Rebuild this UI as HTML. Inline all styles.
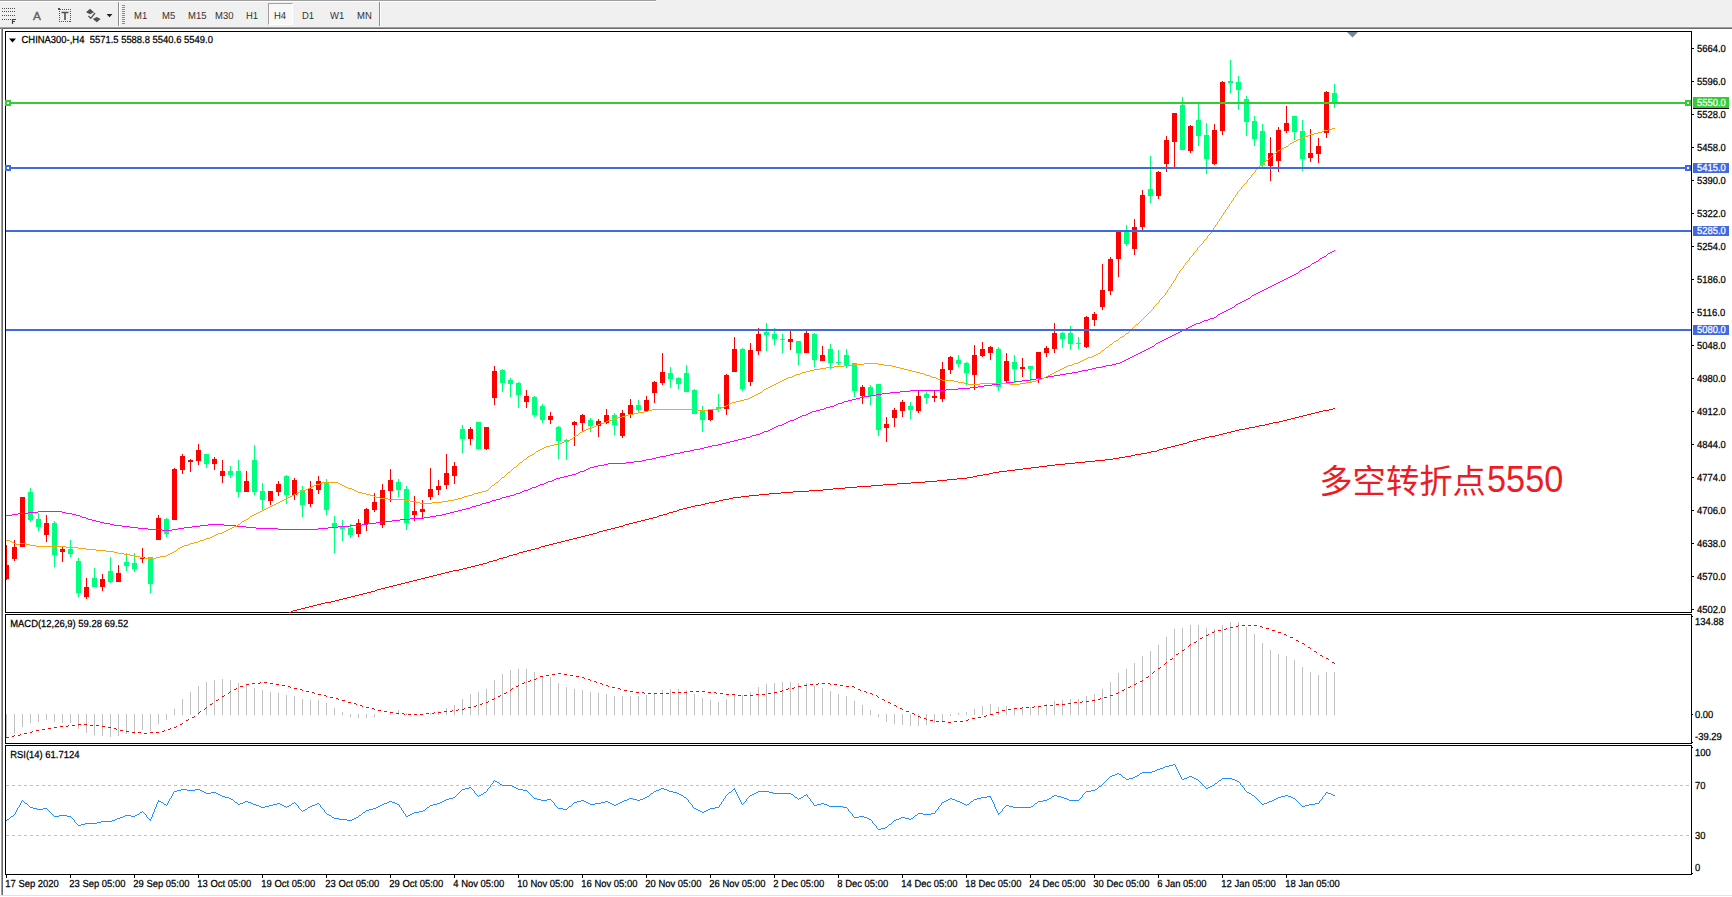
<!DOCTYPE html>
<html lang="zh"><head><meta charset="utf-8"><title>CHINA300-,H4</title>
<style>html,body{margin:0;padding:0;background:#fff;}body{width:1732px;height:897px;overflow:hidden;position:relative;font-family:"Liberation Sans","Noto Sans CJK SC",sans-serif;}svg{position:absolute;left:0;top:0;}.tb{position:absolute;left:0;top:0;width:1732px;height:27px;background:#f0f0f0;}.tf{position:absolute;top:11px;transform:scaleX(0.93);transform-origin:0 0;font-size:10.2px;line-height:12px;color:#333;text-rendering:geometricPrecision;white-space:nowrap;}.note{position:absolute;left:1319.3px;top:456.5px;font-size:33.3px;line-height:48px;color:#ed1c24;white-space:nowrap;font-family:"Liberation Sans","Noto Sans CJK SC",sans-serif;}</style></head><body>
<div class="tb"></div>
<div style="position:absolute;left:268px;top:3px;width:25px;height:22px;border-left:1px solid #a0a0a0;border-top:1px solid #a0a0a0;border-right:1px solid #fff;border-bottom:1px solid #fff;box-sizing:border-box;background:#f8f8f8;"></div>
<div class="tf" style="left:133.6px">M1</div>
<div class="tf" style="left:161.5px">M5</div>
<div class="tf" style="left:187.6px">M15</div>
<div class="tf" style="left:215.4px">M30</div>
<div class="tf" style="left:245.8px">H1</div>
<div class="tf" style="left:273.5px">H4</div>
<div class="tf" style="left:302.4px">D1</div>
<div class="tf" style="left:330.4px">W1</div>
<div class="tf" style="left:356.5px">MN</div>
<div class="note">多空转折点<span style="display:inline-block;font-size:36.3px;line-height:48px;transform:scaleX(0.945);transform-origin:0 100%;margin-left:1.5px;position:relative;top:-0.5px">5550</span></div>
<svg width="1732" height="897" viewBox="0 0 1732 897">
<g shape-rendering="crispEdges">
<rect x="0" y="0" width="656" height="1" fill="#a0a0a0"/><rect x="0" y="1" width="656" height="1" fill="#ffffff"/>
<rect x="0" y="27" width="1732" height="1" fill="#a0a0a0"/><rect x="0" y="28" width="1732" height="1" fill="#696969"/>
<rect x="0" y="29" width="1" height="866" fill="#ffffff"/>
<rect x="1" y="28" width="1" height="867" fill="#a0a0a0"/><rect x="2" y="29" width="1" height="866" fill="#696969"/>
<rect x="0" y="895" width="1732" height="1" fill="#e3e3e3"/>
<rect x="118" y="2" width="1" height="24" fill="#8c8c8c"/><rect x="119" y="2" width="1" height="24" fill="#ffffff"/>
<rect x="122" y="5" width="3" height="1" fill="#8c8c8c"/>
<rect x="122" y="7" width="3" height="1" fill="#8c8c8c"/>
<rect x="122" y="9" width="3" height="1" fill="#8c8c8c"/>
<rect x="122" y="11" width="3" height="1" fill="#8c8c8c"/>
<rect x="122" y="13" width="3" height="1" fill="#8c8c8c"/>
<rect x="122" y="15" width="3" height="1" fill="#8c8c8c"/>
<rect x="122" y="17" width="3" height="1" fill="#8c8c8c"/>
<rect x="122" y="19" width="3" height="1" fill="#8c8c8c"/>
<rect x="122" y="21" width="3" height="1" fill="#8c8c8c"/>
<rect x="122" y="23" width="3" height="1" fill="#8c8c8c"/>
<rect x="379" y="2" width="1" height="24" fill="#8c8c8c"/><rect x="380" y="2" width="1" height="24" fill="#ffffff"/>
</g>
<g id="icons">
<line x1="2" y1="8.5" x2="15" y2="8.5" stroke="#505050" stroke-width="1" stroke-dasharray="1 1" shape-rendering="crispEdges"/>
<line x1="2" y1="11.5" x2="15" y2="11.5" stroke="#505050" stroke-width="1" stroke-dasharray="1 1" shape-rendering="crispEdges"/>
<line x1="2" y1="15.5" x2="15" y2="15.5" stroke="#505050" stroke-width="1" stroke-dasharray="1 1" shape-rendering="crispEdges"/>
<line x1="2" y1="19.5" x2="11" y2="19.5" stroke="#505050" stroke-width="1" stroke-dasharray="1 1" shape-rendering="crispEdges"/>
<path d="M12.5 24V19.5H16M12.5 21.5H15" stroke="#404040" stroke-width="1.2" fill="none"/>
<text x="32.9" y="20" font-family="Liberation Sans, sans-serif" font-size="11.8px" fill="#606060" stroke="#606060" stroke-width="0.35">A</text>
<rect x="59.5" y="9.5" width="11" height="12" fill="none" stroke="#505050" stroke-width="1" stroke-dasharray="1 1" shape-rendering="crispEdges"/>
<rect x="58" y="8" width="2" height="2" fill="#505050"/>
<path d="M61.5 12.5H68.500M65 12.5V20" stroke="#505050" stroke-width="1.6" fill="none"/>
<path d="M86 12.200L90 8.800L94 12.200L90 14.200ZM92.800 19L96.800 17L100.600 19L96.800 22.300Z" fill="#505050"/><path d="M88.500 16L90.800 18.300L95 13" stroke="#505050" stroke-width="1.3" fill="none"/>
<path d="M106.500 14H112.500L109.500 17.300Z" fill="#202020"/>
</g>
<g shape-rendering="crispEdges">
<rect x="5" y="31" width="1" height="582" fill="#000"/>
<rect x="1691" y="31" width="1" height="582" fill="#000"/>
<rect x="5" y="614" width="1" height="130" fill="#000"/>
<rect x="1691" y="614" width="1" height="130" fill="#000"/>
<rect x="5" y="745" width="1" height="130" fill="#000"/>
<rect x="1691" y="745" width="1" height="130" fill="#000"/>
<rect x="5" y="31" width="1687" height="1" fill="#000"/>
<rect x="5" y="612" width="1687" height="1" fill="#000"/>
<rect x="5" y="614" width="1687" height="1" fill="#000"/>
<rect x="5" y="743" width="1687" height="1" fill="#000"/>
<rect x="5" y="745" width="1687" height="1" fill="#000"/>
<rect x="5" y="874" width="1687" height="1" fill="#000"/>
<rect x="1692" y="48" width="2" height="1" fill="#000"/>
<rect x="1692" y="81" width="2" height="1" fill="#000"/>
<rect x="1692" y="114" width="2" height="1" fill="#000"/>
<rect x="1692" y="147" width="2" height="1" fill="#000"/>
<rect x="1692" y="180" width="2" height="1" fill="#000"/>
<rect x="1692" y="213" width="2" height="1" fill="#000"/>
<rect x="1692" y="246" width="2" height="1" fill="#000"/>
<rect x="1692" y="279" width="2" height="1" fill="#000"/>
<rect x="1692" y="312" width="2" height="1" fill="#000"/>
<rect x="1692" y="345" width="2" height="1" fill="#000"/>
<rect x="1692" y="378" width="2" height="1" fill="#000"/>
<rect x="1692" y="411" width="2" height="1" fill="#000"/>
<rect x="1692" y="444" width="2" height="1" fill="#000"/>
<rect x="1692" y="477" width="2" height="1" fill="#000"/>
<rect x="1692" y="510" width="2" height="1" fill="#000"/>
<rect x="1692" y="543" width="2" height="1" fill="#000"/>
<rect x="1692" y="576" width="2" height="1" fill="#000"/>
<rect x="1692" y="609" width="2" height="1" fill="#000"/>
<rect x="1692" y="616" width="1" height="1" fill="#000"/>
<rect x="1692" y="714" width="1" height="1" fill="#000"/>
<rect x="1692" y="742" width="1" height="1" fill="#000"/>
<rect x="1692" y="747" width="1" height="1" fill="#000"/>
<rect x="1692" y="873" width="1" height="1" fill="#000"/>
<rect x="6" y="875" width="1" height="3" fill="#000"/>
<rect x="70" y="875" width="1" height="3" fill="#000"/>
<rect x="134" y="875" width="1" height="3" fill="#000"/>
<rect x="198" y="875" width="1" height="3" fill="#000"/>
<rect x="262" y="875" width="1" height="3" fill="#000"/>
<rect x="326" y="875" width="1" height="3" fill="#000"/>
<rect x="390" y="875" width="1" height="3" fill="#000"/>
<rect x="454" y="875" width="1" height="3" fill="#000"/>
<rect x="518" y="875" width="1" height="3" fill="#000"/>
<rect x="582" y="875" width="1" height="3" fill="#000"/>
<rect x="646" y="875" width="1" height="3" fill="#000"/>
<rect x="710" y="875" width="1" height="3" fill="#000"/>
<rect x="774" y="875" width="1" height="3" fill="#000"/>
<rect x="838" y="875" width="1" height="3" fill="#000"/>
<rect x="902" y="875" width="1" height="3" fill="#000"/>
<rect x="966" y="875" width="1" height="3" fill="#000"/>
<rect x="1030" y="875" width="1" height="3" fill="#000"/>
<rect x="1094" y="875" width="1" height="3" fill="#000"/>
<rect x="1158" y="875" width="1" height="3" fill="#000"/>
<rect x="1222" y="875" width="1" height="3" fill="#000"/>
<rect x="1286" y="875" width="1" height="3" fill="#000"/>
</g>
<g shape-rendering="crispEdges">
<rect x="6" y="545" width="1" height="35" fill="#ff0000"/><rect x="6" y="565" width="3" height="14" fill="#ff0000"/>
<rect x="14" y="540" width="1" height="21" fill="#ff0000"/><rect x="12" y="547" width="5" height="12" fill="#ff0000"/>
<rect x="22" y="497" width="1" height="50" fill="#ff0000"/><rect x="20" y="497" width="5" height="50" fill="#ff0000"/>
<rect x="30" y="488" width="1" height="34" fill="#00ff7f"/><rect x="28" y="492" width="5" height="28" fill="#00ff7f"/>
<rect x="38" y="513" width="1" height="18" fill="#00ff7f"/><rect x="36" y="519" width="5" height="8" fill="#00ff7f"/>
<rect x="46" y="515" width="1" height="27" fill="#ff0000"/><rect x="44" y="523" width="5" height="12" fill="#ff0000"/>
<rect x="54" y="521" width="1" height="46" fill="#00ff7f"/><rect x="52" y="523" width="5" height="32" fill="#00ff7f"/>
<rect x="62" y="546" width="1" height="16" fill="#ff0000"/><rect x="60" y="549" width="5" height="3" fill="#ff0000"/>
<rect x="70" y="540" width="1" height="17" fill="#00ff7f"/><rect x="68" y="549" width="5" height="5" fill="#00ff7f"/>
<rect x="78" y="558" width="1" height="39" fill="#00ff7f"/><rect x="76" y="561" width="5" height="32" fill="#00ff7f"/>
<rect x="86" y="578" width="1" height="21" fill="#ff0000"/><rect x="84" y="587" width="5" height="10" fill="#ff0000"/>
<rect x="94" y="568" width="1" height="19" fill="#00ff7f"/><rect x="92" y="578" width="5" height="9" fill="#00ff7f"/>
<rect x="102" y="574" width="1" height="17" fill="#ff0000"/><rect x="100" y="579" width="5" height="8" fill="#ff0000"/>
<rect x="110" y="557" width="1" height="26" fill="#00ff7f"/><rect x="108" y="571" width="5" height="11" fill="#00ff7f"/>
<rect x="118" y="565" width="1" height="17" fill="#ff0000"/><rect x="116" y="573" width="5" height="9" fill="#ff0000"/>
<rect x="126" y="553" width="1" height="18" fill="#00ff7f"/><rect x="124" y="562" width="5" height="4" fill="#00ff7f"/>
<rect x="134" y="553" width="1" height="19" fill="#00ff7f"/><rect x="132" y="563" width="5" height="6" fill="#00ff7f"/>
<rect x="142" y="548" width="1" height="15" fill="#ff0000"/><rect x="140" y="557" width="5" height="2" fill="#ff0000"/>
<rect x="150" y="557" width="1" height="36" fill="#00ff7f"/><rect x="148" y="557" width="5" height="27" fill="#00ff7f"/>
<rect x="158" y="515" width="1" height="25" fill="#ff0000"/><rect x="156" y="518" width="5" height="22" fill="#ff0000"/>
<rect x="166" y="518" width="1" height="19" fill="#00ff7f"/><rect x="164" y="519" width="5" height="15" fill="#00ff7f"/>
<rect x="174" y="468" width="1" height="52" fill="#ff0000"/><rect x="172" y="469" width="5" height="51" fill="#ff0000"/>
<rect x="182" y="454" width="1" height="20" fill="#ff0000"/><rect x="180" y="456" width="5" height="14" fill="#ff0000"/>
<rect x="190" y="459" width="1" height="13" fill="#ff0000"/><rect x="188" y="460" width="5" height="2" fill="#ff0000"/>
<rect x="198" y="444" width="1" height="21" fill="#ff0000"/><rect x="196" y="450" width="5" height="11" fill="#ff0000"/>
<rect x="206" y="454" width="1" height="14" fill="#00ff7f"/><rect x="204" y="454" width="5" height="10" fill="#00ff7f"/>
<rect x="214" y="457" width="1" height="13" fill="#ff0000"/><rect x="212" y="459" width="5" height="5" fill="#ff0000"/>
<rect x="222" y="460" width="1" height="23" fill="#ff0000"/><rect x="220" y="471" width="5" height="5" fill="#ff0000"/>
<rect x="230" y="466" width="1" height="12" fill="#00ff7f"/><rect x="228" y="471" width="5" height="4" fill="#00ff7f"/>
<rect x="238" y="460" width="1" height="37" fill="#00ff7f"/><rect x="236" y="471" width="5" height="21" fill="#00ff7f"/>
<rect x="246" y="471" width="1" height="21" fill="#ff0000"/><rect x="244" y="481" width="5" height="11" fill="#ff0000"/>
<rect x="254" y="445" width="1" height="50" fill="#00ff7f"/><rect x="252" y="460" width="5" height="32" fill="#00ff7f"/>
<rect x="262" y="483" width="1" height="28" fill="#00ff7f"/><rect x="260" y="491" width="5" height="9" fill="#00ff7f"/>
<rect x="270" y="491" width="1" height="14" fill="#ff0000"/><rect x="268" y="491" width="5" height="10" fill="#ff0000"/>
<rect x="278" y="481" width="1" height="15" fill="#ff0000"/><rect x="276" y="484" width="5" height="8" fill="#ff0000"/>
<rect x="286" y="475" width="1" height="29" fill="#00ff7f"/><rect x="284" y="476" width="5" height="19" fill="#00ff7f"/>
<rect x="294" y="478" width="1" height="22" fill="#ff0000"/><rect x="292" y="480" width="5" height="15" fill="#ff0000"/>
<rect x="302" y="486" width="1" height="31" fill="#00ff7f"/><rect x="300" y="490" width="5" height="15" fill="#00ff7f"/>
<rect x="310" y="481" width="1" height="26" fill="#ff0000"/><rect x="308" y="489" width="5" height="15" fill="#ff0000"/>
<rect x="318" y="476" width="1" height="18" fill="#ff0000"/><rect x="316" y="481" width="5" height="9" fill="#ff0000"/>
<rect x="326" y="479" width="1" height="36" fill="#00ff7f"/><rect x="324" y="483" width="5" height="27" fill="#00ff7f"/>
<rect x="334" y="516" width="1" height="37" fill="#00ff7f"/><rect x="332" y="523" width="5" height="4" fill="#00ff7f"/>
<rect x="342" y="520" width="1" height="21" fill="#00ff7f"/><rect x="340" y="527" width="5" height="2" fill="#00ff7f"/>
<rect x="350" y="524" width="1" height="14" fill="#00ff7f"/><rect x="348" y="528" width="5" height="7" fill="#00ff7f"/>
<rect x="358" y="519" width="1" height="18" fill="#ff0000"/><rect x="356" y="523" width="5" height="11" fill="#ff0000"/>
<rect x="366" y="508" width="1" height="23" fill="#ff0000"/><rect x="364" y="509" width="5" height="15" fill="#ff0000"/>
<rect x="374" y="493" width="1" height="19" fill="#ff0000"/><rect x="372" y="502" width="5" height="8" fill="#ff0000"/>
<rect x="382" y="484" width="1" height="44" fill="#ff0000"/><rect x="380" y="490" width="5" height="35" fill="#ff0000"/>
<rect x="390" y="469" width="1" height="33" fill="#ff0000"/><rect x="388" y="480" width="5" height="11" fill="#ff0000"/>
<rect x="398" y="479" width="1" height="18" fill="#00ff7f"/><rect x="396" y="482" width="5" height="8" fill="#00ff7f"/>
<rect x="406" y="486" width="1" height="44" fill="#00ff7f"/><rect x="404" y="489" width="5" height="34" fill="#00ff7f"/>
<rect x="414" y="496" width="1" height="25" fill="#ff0000"/><rect x="412" y="511" width="5" height="4" fill="#ff0000"/>
<rect x="422" y="500" width="1" height="18" fill="#ff0000"/><rect x="420" y="509" width="5" height="3" fill="#ff0000"/>
<rect x="430" y="468" width="1" height="32" fill="#ff0000"/><rect x="428" y="489" width="5" height="8" fill="#ff0000"/>
<rect x="438" y="480" width="1" height="15" fill="#ff0000"/><rect x="436" y="486" width="5" height="4" fill="#ff0000"/>
<rect x="446" y="454" width="1" height="35" fill="#ff0000"/><rect x="444" y="473" width="5" height="12" fill="#ff0000"/>
<rect x="454" y="462" width="1" height="22" fill="#ff0000"/><rect x="452" y="466" width="5" height="10" fill="#ff0000"/>
<rect x="462" y="425" width="1" height="28" fill="#00ff7f"/><rect x="460" y="429" width="5" height="10" fill="#00ff7f"/>
<rect x="470" y="427" width="1" height="18" fill="#ff0000"/><rect x="468" y="429" width="5" height="10" fill="#ff0000"/>
<rect x="478" y="422" width="1" height="28" fill="#00ff7f"/><rect x="476" y="422" width="5" height="27" fill="#00ff7f"/>
<rect x="486" y="427" width="1" height="23" fill="#ff0000"/><rect x="484" y="427" width="5" height="22" fill="#ff0000"/>
<rect x="494" y="366" width="1" height="39" fill="#ff0000"/><rect x="492" y="371" width="5" height="27" fill="#ff0000"/>
<rect x="502" y="369" width="1" height="23" fill="#00ff7f"/><rect x="500" y="370" width="5" height="13" fill="#00ff7f"/>
<rect x="510" y="378" width="1" height="19" fill="#00ff7f"/><rect x="508" y="380" width="5" height="4" fill="#00ff7f"/>
<rect x="518" y="382" width="1" height="26" fill="#00ff7f"/><rect x="516" y="383" width="5" height="12" fill="#00ff7f"/>
<rect x="526" y="390" width="1" height="18" fill="#ff0000"/><rect x="524" y="396" width="5" height="6" fill="#ff0000"/>
<rect x="534" y="396" width="1" height="21" fill="#00ff7f"/><rect x="532" y="397" width="5" height="18" fill="#00ff7f"/>
<rect x="542" y="404" width="1" height="19" fill="#00ff7f"/><rect x="540" y="406" width="5" height="14" fill="#00ff7f"/>
<rect x="550" y="412" width="1" height="12" fill="#ff0000"/><rect x="548" y="416" width="5" height="4" fill="#ff0000"/>
<rect x="558" y="426" width="1" height="33" fill="#00ff7f"/><rect x="556" y="427" width="5" height="14" fill="#00ff7f"/>
<rect x="566" y="439" width="1" height="21" fill="#00ff7f"/><rect x="564" y="440" width="5" height="2" fill="#00ff7f"/>
<rect x="574" y="421" width="1" height="25" fill="#ff0000"/><rect x="572" y="422" width="5" height="3" fill="#ff0000"/>
<rect x="582" y="414" width="1" height="17" fill="#ff0000"/><rect x="580" y="415" width="5" height="8" fill="#ff0000"/>
<rect x="590" y="418" width="1" height="14" fill="#00ff7f"/><rect x="588" y="420" width="5" height="6" fill="#00ff7f"/>
<rect x="598" y="419" width="1" height="18" fill="#ff0000"/><rect x="596" y="421" width="5" height="5" fill="#ff0000"/>
<rect x="606" y="409" width="1" height="15" fill="#ff0000"/><rect x="604" y="415" width="5" height="8" fill="#ff0000"/>
<rect x="614" y="413" width="1" height="22" fill="#00ff7f"/><rect x="612" y="415" width="5" height="10" fill="#00ff7f"/>
<rect x="622" y="410" width="1" height="28" fill="#ff0000"/><rect x="620" y="413" width="5" height="23" fill="#ff0000"/>
<rect x="630" y="399" width="1" height="19" fill="#ff0000"/><rect x="628" y="405" width="5" height="10" fill="#ff0000"/>
<rect x="638" y="400" width="1" height="12" fill="#00ff7f"/><rect x="636" y="405" width="5" height="5" fill="#00ff7f"/>
<rect x="646" y="396" width="1" height="15" fill="#ff0000"/><rect x="644" y="400" width="5" height="11" fill="#ff0000"/>
<rect x="654" y="381" width="1" height="22" fill="#ff0000"/><rect x="652" y="382" width="5" height="11" fill="#ff0000"/>
<rect x="662" y="353" width="1" height="32" fill="#ff0000"/><rect x="660" y="372" width="5" height="11" fill="#ff0000"/>
<rect x="670" y="367" width="1" height="21" fill="#00ff7f"/><rect x="668" y="373" width="5" height="6" fill="#00ff7f"/>
<rect x="678" y="377" width="1" height="12" fill="#00ff7f"/><rect x="676" y="378" width="5" height="6" fill="#00ff7f"/>
<rect x="686" y="365" width="1" height="27" fill="#00ff7f"/><rect x="684" y="373" width="5" height="19" fill="#00ff7f"/>
<rect x="694" y="389" width="1" height="25" fill="#00ff7f"/><rect x="692" y="390" width="5" height="24" fill="#00ff7f"/>
<rect x="702" y="406" width="1" height="26" fill="#00ff7f"/><rect x="700" y="410" width="5" height="10" fill="#00ff7f"/>
<rect x="710" y="410" width="1" height="11" fill="#ff0000"/><rect x="708" y="410" width="5" height="10" fill="#ff0000"/>
<rect x="718" y="394" width="1" height="18" fill="#00ff7f"/><rect x="716" y="407" width="5" height="2" fill="#00ff7f"/>
<rect x="726" y="374" width="1" height="41" fill="#ff0000"/><rect x="724" y="375" width="5" height="34" fill="#ff0000"/>
<rect x="734" y="337" width="1" height="35" fill="#ff0000"/><rect x="732" y="349" width="5" height="23" fill="#ff0000"/>
<rect x="742" y="348" width="1" height="43" fill="#00ff7f"/><rect x="740" y="349" width="5" height="40" fill="#00ff7f"/>
<rect x="750" y="343" width="1" height="43" fill="#ff0000"/><rect x="748" y="350" width="5" height="32" fill="#ff0000"/>
<rect x="758" y="328" width="1" height="27" fill="#ff0000"/><rect x="756" y="334" width="5" height="17" fill="#ff0000"/>
<rect x="766" y="323" width="1" height="28" fill="#00ff7f"/><rect x="764" y="332" width="5" height="3" fill="#00ff7f"/>
<rect x="774" y="328" width="1" height="17" fill="#00ff7f"/><rect x="772" y="334" width="5" height="5" fill="#00ff7f"/>
<rect x="782" y="334" width="1" height="19" fill="#00ff7f"/><rect x="780" y="339" width="5" height="1" fill="#00ff7f"/>
<rect x="790" y="331" width="1" height="19" fill="#ff0000"/><rect x="788" y="339" width="5" height="3" fill="#ff0000"/>
<rect x="798" y="341" width="1" height="24" fill="#00ff7f"/><rect x="796" y="341" width="5" height="12" fill="#00ff7f"/>
<rect x="806" y="331" width="1" height="22" fill="#ff0000"/><rect x="804" y="333" width="5" height="20" fill="#ff0000"/>
<rect x="814" y="333" width="1" height="34" fill="#00ff7f"/><rect x="812" y="334" width="5" height="26" fill="#00ff7f"/>
<rect x="822" y="346" width="1" height="15" fill="#ff0000"/><rect x="820" y="355" width="5" height="6" fill="#ff0000"/>
<rect x="830" y="344" width="1" height="25" fill="#00ff7f"/><rect x="828" y="349" width="5" height="14" fill="#00ff7f"/>
<rect x="838" y="350" width="1" height="15" fill="#00ff7f"/><rect x="836" y="362" width="5" height="1" fill="#00ff7f"/>
<rect x="846" y="349" width="1" height="19" fill="#00ff7f"/><rect x="844" y="355" width="5" height="11" fill="#00ff7f"/>
<rect x="854" y="363" width="1" height="34" fill="#00ff7f"/><rect x="852" y="363" width="5" height="28" fill="#00ff7f"/>
<rect x="862" y="385" width="1" height="19" fill="#ff0000"/><rect x="860" y="387" width="5" height="9" fill="#ff0000"/>
<rect x="870" y="385" width="1" height="20" fill="#00ff7f"/><rect x="868" y="387" width="5" height="9" fill="#00ff7f"/>
<rect x="878" y="384" width="1" height="52" fill="#00ff7f"/><rect x="876" y="384" width="5" height="46" fill="#00ff7f"/>
<rect x="886" y="417" width="1" height="25" fill="#ff0000"/><rect x="884" y="424" width="5" height="4" fill="#ff0000"/>
<rect x="894" y="408" width="1" height="19" fill="#ff0000"/><rect x="892" y="410" width="5" height="8" fill="#ff0000"/>
<rect x="902" y="400" width="1" height="17" fill="#ff0000"/><rect x="900" y="402" width="5" height="9" fill="#ff0000"/>
<rect x="910" y="402" width="1" height="17" fill="#00ff7f"/><rect x="908" y="406" width="5" height="4" fill="#00ff7f"/>
<rect x="918" y="391" width="1" height="22" fill="#ff0000"/><rect x="916" y="396" width="5" height="15" fill="#ff0000"/>
<rect x="926" y="391" width="1" height="13" fill="#00ff7f"/><rect x="924" y="394" width="5" height="4" fill="#00ff7f"/>
<rect x="934" y="391" width="1" height="11" fill="#ff0000"/><rect x="932" y="396" width="5" height="2" fill="#ff0000"/>
<rect x="942" y="362" width="1" height="40" fill="#ff0000"/><rect x="940" y="369" width="5" height="30" fill="#ff0000"/>
<rect x="950" y="356" width="1" height="18" fill="#ff0000"/><rect x="948" y="357" width="5" height="13" fill="#ff0000"/>
<rect x="958" y="355" width="1" height="12" fill="#00ff7f"/><rect x="956" y="360" width="5" height="4" fill="#00ff7f"/>
<rect x="966" y="362" width="1" height="23" fill="#00ff7f"/><rect x="964" y="363" width="5" height="10" fill="#00ff7f"/>
<rect x="974" y="345" width="1" height="45" fill="#ff0000"/><rect x="972" y="355" width="5" height="20" fill="#ff0000"/>
<rect x="982" y="342" width="1" height="15" fill="#ff0000"/><rect x="980" y="349" width="5" height="7" fill="#ff0000"/>
<rect x="990" y="346" width="1" height="14" fill="#ff0000"/><rect x="988" y="347" width="5" height="6" fill="#ff0000"/>
<rect x="998" y="347" width="1" height="44" fill="#00ff7f"/><rect x="996" y="349" width="5" height="38" fill="#00ff7f"/>
<rect x="1006" y="353" width="1" height="31" fill="#ff0000"/><rect x="1004" y="361" width="5" height="20" fill="#ff0000"/>
<rect x="1014" y="355" width="1" height="28" fill="#00ff7f"/><rect x="1012" y="362" width="5" height="7" fill="#00ff7f"/>
<rect x="1022" y="358" width="1" height="19" fill="#ff0000"/><rect x="1020" y="367" width="5" height="2" fill="#ff0000"/>
<rect x="1030" y="366" width="1" height="16" fill="#00ff7f"/><rect x="1028" y="366" width="5" height="3" fill="#00ff7f"/>
<rect x="1038" y="352" width="1" height="31" fill="#ff0000"/><rect x="1036" y="352" width="5" height="27" fill="#ff0000"/>
<rect x="1046" y="346" width="1" height="11" fill="#ff0000"/><rect x="1044" y="348" width="5" height="5" fill="#ff0000"/>
<rect x="1054" y="323" width="1" height="30" fill="#ff0000"/><rect x="1052" y="333" width="5" height="16" fill="#ff0000"/>
<rect x="1062" y="332" width="1" height="16" fill="#00ff7f"/><rect x="1060" y="333" width="5" height="6" fill="#00ff7f"/>
<rect x="1070" y="326" width="1" height="24" fill="#00ff7f"/><rect x="1068" y="333" width="5" height="11" fill="#00ff7f"/>
<rect x="1078" y="337" width="1" height="12" fill="#00ff7f"/><rect x="1076" y="343" width="5" height="1" fill="#00ff7f"/>
<rect x="1086" y="316" width="1" height="32" fill="#ff0000"/><rect x="1084" y="317" width="5" height="30" fill="#ff0000"/>
<rect x="1094" y="312" width="1" height="14" fill="#ff0000"/><rect x="1092" y="314" width="5" height="6" fill="#ff0000"/>
<rect x="1102" y="264" width="1" height="46" fill="#ff0000"/><rect x="1100" y="290" width="5" height="17" fill="#ff0000"/>
<rect x="1110" y="257" width="1" height="38" fill="#ff0000"/><rect x="1108" y="259" width="5" height="32" fill="#ff0000"/>
<rect x="1118" y="231" width="1" height="46" fill="#ff0000"/><rect x="1116" y="231" width="5" height="28" fill="#ff0000"/>
<rect x="1126" y="225" width="1" height="21" fill="#00ff7f"/><rect x="1124" y="232" width="5" height="12" fill="#00ff7f"/>
<rect x="1134" y="219" width="1" height="36" fill="#ff0000"/><rect x="1132" y="227" width="5" height="22" fill="#ff0000"/>
<rect x="1142" y="190" width="1" height="40" fill="#ff0000"/><rect x="1140" y="195" width="5" height="32" fill="#ff0000"/>
<rect x="1150" y="156" width="1" height="47" fill="#00ff7f"/><rect x="1148" y="189" width="5" height="7" fill="#00ff7f"/>
<rect x="1158" y="171" width="1" height="28" fill="#ff0000"/><rect x="1156" y="172" width="5" height="24" fill="#ff0000"/>
<rect x="1166" y="136" width="1" height="36" fill="#ff0000"/><rect x="1164" y="140" width="5" height="24" fill="#ff0000"/>
<rect x="1174" y="113" width="1" height="54" fill="#ff0000"/><rect x="1172" y="113" width="5" height="29" fill="#ff0000"/>
<rect x="1182" y="97" width="1" height="53" fill="#00ff7f"/><rect x="1180" y="105" width="5" height="45" fill="#00ff7f"/>
<rect x="1190" y="125" width="1" height="28" fill="#ff0000"/><rect x="1188" y="126" width="5" height="25" fill="#ff0000"/>
<rect x="1198" y="104" width="1" height="42" fill="#00ff7f"/><rect x="1196" y="120" width="5" height="16" fill="#00ff7f"/>
<rect x="1206" y="123" width="1" height="51" fill="#00ff7f"/><rect x="1204" y="135" width="5" height="24" fill="#00ff7f"/>
<rect x="1214" y="124" width="1" height="41" fill="#ff0000"/><rect x="1212" y="130" width="5" height="34" fill="#ff0000"/>
<rect x="1222" y="81" width="1" height="54" fill="#ff0000"/><rect x="1220" y="82" width="5" height="49" fill="#ff0000"/>
<rect x="1230" y="60" width="1" height="33" fill="#00ff7f"/><rect x="1228" y="81" width="5" height="2" fill="#00ff7f"/>
<rect x="1238" y="76" width="1" height="34" fill="#00ff7f"/><rect x="1236" y="82" width="5" height="8" fill="#00ff7f"/>
<rect x="1246" y="96" width="1" height="40" fill="#00ff7f"/><rect x="1244" y="99" width="5" height="23" fill="#00ff7f"/>
<rect x="1254" y="116" width="1" height="30" fill="#00ff7f"/><rect x="1252" y="121" width="5" height="18" fill="#00ff7f"/>
<rect x="1262" y="124" width="1" height="43" fill="#00ff7f"/><rect x="1260" y="131" width="5" height="34" fill="#00ff7f"/>
<rect x="1270" y="137" width="1" height="44" fill="#ff0000"/><rect x="1268" y="153" width="5" height="13" fill="#ff0000"/>
<rect x="1278" y="127" width="1" height="45" fill="#ff0000"/><rect x="1276" y="130" width="5" height="31" fill="#ff0000"/>
<rect x="1286" y="106" width="1" height="27" fill="#ff0000"/><rect x="1284" y="123" width="5" height="8" fill="#ff0000"/>
<rect x="1294" y="116" width="1" height="24" fill="#00ff7f"/><rect x="1292" y="116" width="5" height="16" fill="#00ff7f"/>
<rect x="1302" y="120" width="1" height="51" fill="#00ff7f"/><rect x="1300" y="131" width="5" height="28" fill="#00ff7f"/>
<rect x="1310" y="129" width="1" height="33" fill="#ff0000"/><rect x="1308" y="153" width="5" height="5" fill="#ff0000"/>
<rect x="1318" y="138" width="1" height="25" fill="#ff0000"/><rect x="1316" y="146" width="5" height="8" fill="#ff0000"/>
<rect x="1326" y="91" width="1" height="47" fill="#ff0000"/><rect x="1324" y="92" width="5" height="41" fill="#ff0000"/>
<rect x="1334" y="84" width="1" height="24" fill="#00ff7f"/><rect x="1332" y="93" width="5" height="9" fill="#00ff7f"/>
</g>
<g shape-rendering="crispEdges">
<path d="M1333 408h2M1329 409h4M1323 410h6M1319 411h4M1315 412h4M1311 413h4M1307 414h4M1303 415h4M1299 416h4M1295 417h4M1291 418h4M1287 419h4M1283 420h4M1279 421h4M1273 422h6M1269 423h4M1265 424h4M1259 425h6M1255 426h4M1249 427h6M1245 428h4M1239 429h6M1235 430h4M1231 431h4M1227 432h4M1223 433h4M1219 434h4M1215 435h4M1209 436h6M1205 437h4M1201 438h4M1197 439h4M1193 440h4M1189 441h4M1187 442h2M1183 443h4M1179 444h4M1175 445h4M1171 446h4M1167 447h4M1163 448h4M1159 449h4M1157 450h2M1151 451h6M1147 452h4M1141 453h6M1135 454h6M1131 455h4M1125 456h6M1119 457h6M1113 458h6M1105 459h8M1095 460h10M1085 461h10M1075 462h10M1065 463h10M1055 464h10M1047 465h8M1039 466h8M1031 467h8M1023 468h8M1015 469h8M1007 470h8M999 471h8M993 472h6M989 473h4M983 474h6M977 475h6M973 476h4M967 477h6M957 478h10M947 479h10M937 480h10M925 481h12M911 482h14M897 483h14M883 484h14M871 485h12M857 486h14M845 487h12M833 488h12M823 489h10M809 490h14M793 491h16M781 492h12M769 493h12M759 494h10M749 495h10M741 496h8M733 497h8M729 498h4M723 499h6M719 500h4M715 501h4M709 502h6M705 503h4M701 504h4M695 505h6M691 506h4M687 507h4M683 508h4M679 509h4M677 510h2M673 511h4M669 512h4M667 513h2M663 514h4M659 515h4M657 516h2M653 517h4M649 518h4M645 519h4M641 520h4M637 521h4M633 522h4M629 523h4M625 524h4M623 525h2M619 526h4M615 527h4M611 528h4M607 529h4M603 530h4M599 531h4M597 532h2M593 533h4M589 534h4M585 535h4M581 536h4M577 537h4M573 538h4M569 539h4M565 540h4M561 541h4M557 542h4M553 543h4M549 544h4M545 545h4M541 546h4M539 547h2M535 548h4M531 549h4M527 550h4M523 551h4M519 552h4M517 553h2M513 554h4M509 555h4M507 556h2M503 557h4M499 558h4M497 559h2M493 560h4M489 561h4M487 562h2M483 563h4M479 564h4M475 565h4M471 566h4M467 567h4M463 568h4M459 569h4M453 570h6M449 571h4M445 572h4M441 573h4M437 574h4M433 575h4M429 576h4M425 577h4M421 578h4M417 579h4M413 580h4M409 581h4M405 582h4M401 583h4M397 584h4M393 585h4M389 586h4M385 587h4M381 588h4M377 589h4M375 590h2M371 591h4M367 592h4M363 593h4M359 594h4M355 595h4M351 596h4M347 597h4M343 598h4M339 599h4M335 600h4M331 601h4M325 602h6M321 603h4M317 604h4M313 605h4M309 606h4M305 607h4M301 608h4M297 609h4M293 610h4M291 611h2M289 612h2" transform="translate(0 0.5)" fill="none" stroke="#ff0000" stroke-width="1"/>
<path d="M1334 250h1M1332 251h2M1330 252h2M1328 253h2M1327 254h1M1326 255h1M1324 256h2M1322 257h2M1320 258h2M1319 259h1M1318 260h1M1316 261h2M1314 262h2M1312 263h2M1311 264h1M1310 265h1M1308 266h2M1306 267h2M1304 268h2M1302 269h2M1300 270h2M1299 271h1M1298 272h1M1296 273h2M1294 274h2M1292 275h2M1290 276h2M1288 277h2M1286 278h2M1284 279h2M1282 280h2M1280 281h2M1278 282h2M1276 283h2M1274 284h2M1272 285h2M1270 286h2M1268 287h2M1266 288h2M1264 289h2M1262 290h2M1260 291h2M1258 292h2M1256 293h2M1254 294h2M1252 295h2M1251 296h1M1250 297h1M1248 298h2M1246 299h2M1244 300h2M1242 301h2M1240 302h2M1238 303h2M1236 304h2M1235 305h1M1234 306h1M1232 307h2M1230 308h2M1228 309h2M1226 310h2M1224 311h2M1222 312h2M1220 313h2M1218 314h2M1217 315h1M1216 316h1M1214 317h2M1210 318h4M1208 319h2M1204 320h4M1202 321h2M1200 322h2M1196 323h4M1194 324h2M1192 325h2M1190 326h2M1188 327h2M1186 328h2M1184 329h2M1182 330h2M1180 331h2M1178 332h2M1176 333h2M1174 334h2M1172 335h2M1170 336h2M1168 337h2M1166 338h2M1164 339h2M1162 340h2M1160 341h2M1158 342h2M1156 343h2M1155 344h1M1154 345h1M1152 346h2M1150 347h2M1148 348h2M1146 349h2M1144 350h2M1142 351h2M1140 352h2M1138 353h2M1136 354h2M1134 355h2M1132 356h2M1130 357h2M1128 358h2M1126 359h2M1124 360h2M1122 361h2M1120 362h2M1116 363h4M1112 364h4M1106 365h6M1102 366h4M1096 367h6M1092 368h4M1088 369h4M1082 370h6M1078 371h4M1072 372h6M1066 373h6M1060 374h6M1054 375h6M1048 376h6M1044 377h4M1036 378h8M1030 379h6M1022 380h8M1014 381h8M1006 382h8M1000 383h6M992 384h8M984 385h8M978 386h6M970 387h8M958 388h12M946 389h12M910 390h36M900 391h10M890 392h10M882 393h8M876 394h6M870 395h6M864 396h6M860 397h4M856 398h4M852 399h4M848 400h4M844 401h4M842 402h2M838 403h4M836 404h2M834 405h2M830 406h4M826 407h4M824 408h2M820 409h4M816 410h4M812 411h4M810 412h2M808 413h2M806 414h2M802 415h4M800 416h2M798 417h2M796 418h2M794 419h2M790 420h4M788 421h2M786 422h2M784 423h2M782 424h2M778 425h4M776 426h2M774 427h2M772 428h2M770 429h2M768 430h2M764 431h4M762 432h2M760 433h2M756 434h4M752 435h4M750 436h2M746 437h4M742 438h4M738 439h4M734 440h4M730 441h4M726 442h4M722 443h4M718 444h4M712 445h6M708 446h4M704 447h4M700 448h4M694 449h6M690 450h4M684 451h6M680 452h4M674 453h6M670 454h4M666 455h4M660 456h6M656 457h4M652 458h4M646 459h6M642 460h4M634 461h8M626 462h8M608 463h18M604 464h4M598 465h6M594 466h4M590 467h4M588 468h2M586 469h2M584 470h2M580 471h4M578 472h2M576 473h2M572 474h4M568 475h4M564 476h4M560 477h4M556 478h4M554 479h2M552 480h2M548 481h4M546 482h2M544 483h2M540 484h4M538 485h2M536 486h2M532 487h4M530 488h2M528 489h2M524 490h4M522 491h2M520 492h2M516 493h4M514 494h2M510 495h4M506 496h4M502 497h4M500 498h2M496 499h4M492 500h4M490 501h2M486 502h4M482 503h4M480 504h2M476 505h4M472 506h4M470 507h2M466 508h4M462 509h4M458 510h4M38 511h24M454 511h4M28 512h10M62 512h4M450 512h4M18 513h10M66 513h6M446 513h4M12 514h6M72 514h4M442 514h4M6 515h6M76 515h4M436 515h6M80 516h2M430 516h6M82 517h4M424 517h6M86 518h2M410 518h14M88 519h4M400 519h10M92 520h4M392 520h8M96 521h4M382 521h10M100 522h4M376 522h6M104 523h6M368 523h8M110 524h4M208 524h16M362 524h6M114 525h8M200 525h8M224 525h12M350 525h12M122 526h8M192 526h8M236 526h10M338 526h12M130 527h8M184 527h8M246 527h10M328 527h10M138 528h10M178 528h6M256 528h22M318 528h10M148 529h14M172 529h6M278 529h40M162 530h10" transform="translate(0 0.5)" fill="none" stroke="#ff00ff" stroke-width="1"/>
<path d="M1332 128h3M1328 129h4M1324 130h4M1322 131h2M1318 132h4M1314 133h4M1310 134h4M1308 135h2M1304 136h4M1302 137h2M1300 138h2M1298 139h2M1296 140h2M1294 141h2M1292 142h2M1290 143h2M1289 144h1M1288 145h1M1286 146h2M1284 147h2M1282 148h2M1280 149h2M1278 150h2M1277 151h1M1276 152h1M1274 153h2M1273 154h1M1272 155h1M1271 156h1M1270 157h1M1269 158h1M1268 159h1M1266 160h2M1265 161h1M1264 162h1M1263 163h1M1262 164h1M1260 165h2M1259 166h1M1258 167h1M1257 168h1M1256 169h1M1255 170h1M1255 171h1M1254 172h1M1253 173h1M1252 174h1M1251 175h1M1251 176h1M1250 177h1M1249 178h1M1248 179h1M1247 180h1M1247 181h1M1246 182h1M1245 183h1M1244 184h1M1243 185h1M1242 186h1M1241 187h1M1241 188h1M1240 189h1M1239 190h1M1238 191h1M1237 192h1M1237 193h1M1236 194h1M1235 195h1M1235 196h1M1234 197h1M1233 198h1M1233 199h1M1232 200h1M1231 201h1M1231 202h1M1230 203h1M1229 204h1M1229 205h1M1228 206h1M1227 207h1M1227 208h1M1226 209h1M1225 210h1M1225 211h1M1224 212h1M1223 213h1M1223 214h1M1222 215h1M1221 216h1M1221 217h1M1220 218h1M1219 219h1M1219 220h1M1218 221h1M1217 222h1M1217 223h1M1216 224h1M1215 225h1M1215 226h1M1214 227h1M1213 228h1M1213 229h1M1212 230h1M1211 231h1M1211 232h1M1210 233h1M1209 234h1M1208 235h1M1207 236h1M1207 237h1M1206 238h1M1205 239h1M1204 240h1M1203 241h1M1203 242h1M1202 243h1M1201 244h1M1200 245h1M1199 246h1M1198 247h1M1197 248h1M1197 249h1M1196 250h1M1195 251h1M1194 252h1M1193 253h1M1193 254h1M1192 255h1M1191 256h1M1190 257h1M1189 258h1M1189 259h1M1188 260h1M1187 261h1M1186 262h1M1185 263h1M1185 264h1M1184 265h1M1183 266h1M1183 267h1M1182 268h1M1181 269h1M1180 270h1M1179 271h1M1179 272h1M1178 273h1M1177 274h1M1177 275h1M1176 276h1M1176 277h1M1175 278h1M1175 279h1M1174 280h1M1173 281h1M1173 282h1M1172 283h1M1171 284h1M1171 285h1M1170 286h1M1169 287h1M1169 288h1M1168 289h1M1167 290h1M1167 291h1M1166 292h1M1165 293h1M1165 294h1M1164 295h1M1163 296h1M1162 297h1M1161 298h1M1160 299h1M1159 300h1M1159 301h1M1158 302h1M1157 303h1M1156 304h1M1155 305h1M1154 306h1M1153 307h1M1153 308h1M1152 309h1M1151 310h1M1150 311h1M1149 312h1M1148 313h1M1147 314h1M1146 315h1M1145 316h1M1144 317h1M1143 318h1M1142 319h1M1141 320h1M1140 321h1M1139 322h1M1138 323h1M1136 324h2M1135 325h1M1134 326h1M1133 327h1M1132 328h1M1131 329h1M1130 330h1M1129 331h1M1128 332h1M1126 333h2M1125 334h1M1124 335h1M1122 336h2M1120 337h2M1119 338h1M1118 339h1M1116 340h2M1114 341h2M1113 342h1M1112 343h1M1110 344h2M1109 345h1M1108 346h1M1106 347h2M1105 348h1M1104 349h1M1102 350h2M1101 351h1M1100 352h1M1098 353h2M1096 354h2M1094 355h2M1092 356h2M1088 357h4M1086 358h2M1084 359h2M1082 360h2M1080 361h2M1078 362h2M864 363h14M1074 363h4M854 364h10M878 364h6M1072 364h2M844 365h10M884 365h8M1068 365h4M834 366h10M892 366h4M1066 366h2M826 367h8M896 367h4M1064 367h2M820 368h6M900 368h4M1062 368h2M814 369h6M904 369h4M1060 369h2M810 370h4M908 370h4M1058 370h2M806 371h4M912 371h4M1056 371h2M802 372h4M916 372h4M1054 372h2M800 373h2M920 373h4M1052 373h2M796 374h4M924 374h2M1050 374h2M794 375h2M926 375h4M1048 375h2M792 376h2M930 376h2M1046 376h2M788 377h4M932 377h4M1044 377h2M786 378h2M936 378h2M1042 378h2M784 379h2M938 379h4M1038 379h4M782 380h2M942 380h12M1036 380h2M780 381h2M954 381h4M1032 381h4M778 382h2M958 382h6M1026 382h6M776 383h2M964 383h4M980 383h30M1020 383h6M774 384h2M968 384h12M1010 384h10M772 385h2M770 386h2M768 387h2M766 388h2M764 389h2M763 390h1M762 391h1M760 392h2M758 393h2M756 394h2M754 395h2M752 396h2M750 397h2M748 398h2M744 399h4M740 400h4M736 401h4M732 402h4M730 403h2M728 404h2M726 405h2M724 406h2M720 407h4M718 408h2M652 409h46M708 409h10M648 410h4M698 410h10M644 411h4M638 412h6M634 413h4M628 414h6M626 415h2M622 416h4M618 417h4M614 418h4M612 419h2M608 420h4M606 421h2M604 422h2M600 423h4M598 424h2M596 425h2M594 426h2M592 427h2M588 428h4M586 429h2M584 430h2M582 431h2M580 432h2M579 433h1M578 434h1M576 435h2M574 436h2M573 437h1M572 438h1M570 439h2M568 440h2M564 441h4M562 442h2M558 443h4M554 444h4M550 445h4M546 446h4M544 447h2M542 448h2M540 449h2M538 450h2M536 451h2M535 452h1M534 453h1M532 454h2M530 455h2M528 456h2M527 457h1M526 458h1M524 459h2M523 460h1M522 461h1M520 462h2M519 463h1M518 464h1M517 465h1M516 466h1M514 467h2M513 468h1M512 469h1M511 470h1M510 471h1M508 472h2M507 473h1M506 474h1M505 475h1M504 476h1M502 477h2M501 478h1M500 479h1M499 480h1M498 481h1M322 482h16M496 482h2M320 483h2M338 483h2M495 483h1M316 484h4M340 484h2M494 484h1M314 485h2M342 485h2M492 485h2M312 486h2M344 486h2M491 486h1M310 487h2M346 487h2M490 487h1M308 488h2M348 488h4M489 488h1M306 489h2M352 489h2M488 489h1M302 490h4M354 490h2M486 490h2M300 491h2M356 491h2M482 491h4M298 492h2M358 492h4M478 492h4M296 493h2M362 493h4M474 493h4M294 494h2M366 494h4M472 494h2M292 495h2M370 495h4M468 495h4M290 496h2M374 496h2M464 496h4M288 497h2M376 497h4M462 497h2M286 498h2M380 498h8M458 498h4M284 499h2M388 499h16M454 499h4M282 500h2M404 500h6M448 500h6M280 501h2M410 501h6M442 501h6M278 502h2M416 502h4M432 502h10M276 503h2M420 503h12M274 504h2M272 505h2M270 506h2M268 507h2M266 508h2M264 509h2M262 510h2M260 511h2M258 512h2M256 513h2M254 514h2M252 515h2M250 516h2M249 517h1M248 518h1M246 519h2M244 520h2M242 521h2M241 522h1M240 523h1M238 524h2M237 525h1M234 526h3M232 527h2M230 528h2M228 529h2M226 530h2M224 531h2M222 532h2M218 533h4M216 534h2M214 535h2M212 536h2M210 537h2M206 538h4M204 539h2M6 540h4M200 540h4M10 541h2M198 541h2M12 542h2M194 542h4M14 543h2M20 543h6M190 543h4M16 544h4M26 544h4M188 544h2M30 545h6M184 545h4M36 546h30M182 546h2M66 547h12M180 547h2M78 548h8M178 548h2M86 549h10M177 549h1M96 550h10M176 550h1M106 551h8M174 551h2M114 552h4M172 552h2M118 553h6M170 553h2M124 554h6M168 554h2M130 555h4M166 555h2M134 556h6M160 556h6M140 557h4M156 557h4M144 558h8M154 558h2M152 559h2" transform="translate(0 0.5)" fill="none" stroke="#ffa500" stroke-width="1"/>
</g>
<g shape-rendering="crispEdges">
<rect x="6" y="329" width="1685" height="2" fill="#4169e1"/>
<rect x="6" y="230" width="1685" height="2" fill="#4169e1"/>
<rect x="6" y="167" width="1685" height="2" fill="#4169e1"/>
<rect x="5" y="165" width="6" height="6" fill="#4169e1"/><rect x="7" y="167" width="2" height="2" fill="#fff"/>
<rect x="1685" y="165" width="6" height="6" fill="#4169e1"/><rect x="1687" y="167" width="2" height="2" fill="#fff"/>
<rect x="6" y="102" width="1685" height="2" fill="#32cd32"/>
<rect x="5" y="100" width="6" height="6" fill="#32cd32"/><rect x="7" y="102" width="2" height="2" fill="#fff"/>
<rect x="1685" y="100" width="6" height="6" fill="#32cd32"/><rect x="1687" y="102" width="2" height="2" fill="#fff"/>
<rect x="1693" y="325" width="36" height="10" fill="#4169e1"/>
<rect x="1693" y="226" width="36" height="10" fill="#4169e1"/>
<rect x="1693" y="163" width="36" height="10" fill="#4169e1"/>
<rect x="1693" y="97" width="36" height="11" fill="#32cd32"/><rect x="1693" y="108" width="36" height="1" fill="#000"/>
</g>
<path d="M1347 32H1358L1352.500 37.500Z" fill="#778899"/>
<g shape-rendering="crispEdges">
<rect x="6" y="714" width="1" height="24" fill="#c0c0c0"/>
<rect x="14" y="714" width="1" height="20" fill="#c0c0c0"/>
<rect x="22" y="714" width="1" height="13" fill="#c0c0c0"/>
<rect x="30" y="714" width="1" height="9" fill="#c0c0c0"/>
<rect x="38" y="714" width="1" height="8" fill="#c0c0c0"/>
<rect x="46" y="714" width="1" height="6" fill="#c0c0c0"/>
<rect x="54" y="714" width="1" height="8" fill="#c0c0c0"/>
<rect x="62" y="714" width="1" height="9" fill="#c0c0c0"/>
<rect x="70" y="714" width="1" height="9" fill="#c0c0c0"/>
<rect x="78" y="714" width="1" height="15" fill="#c0c0c0"/>
<rect x="86" y="714" width="1" height="19" fill="#c0c0c0"/>
<rect x="94" y="714" width="1" height="21" fill="#c0c0c0"/>
<rect x="102" y="714" width="1" height="22" fill="#c0c0c0"/>
<rect x="110" y="714" width="1" height="23" fill="#c0c0c0"/>
<rect x="118" y="714" width="1" height="22" fill="#c0c0c0"/>
<rect x="126" y="714" width="1" height="20" fill="#c0c0c0"/>
<rect x="134" y="714" width="1" height="20" fill="#c0c0c0"/>
<rect x="142" y="714" width="1" height="16" fill="#c0c0c0"/>
<rect x="150" y="714" width="1" height="17" fill="#c0c0c0"/>
<rect x="158" y="714" width="1" height="10" fill="#c0c0c0"/>
<rect x="166" y="714" width="1" height="6" fill="#c0c0c0"/>
<rect x="174" y="709" width="1" height="6" fill="#c0c0c0"/>
<rect x="182" y="699" width="1" height="16" fill="#c0c0c0"/>
<rect x="190" y="692" width="1" height="23" fill="#c0c0c0"/>
<rect x="198" y="686" width="1" height="29" fill="#c0c0c0"/>
<rect x="206" y="682" width="1" height="33" fill="#c0c0c0"/>
<rect x="214" y="680" width="1" height="35" fill="#c0c0c0"/>
<rect x="222" y="679" width="1" height="36" fill="#c0c0c0"/>
<rect x="230" y="680" width="1" height="35" fill="#c0c0c0"/>
<rect x="238" y="683" width="1" height="32" fill="#c0c0c0"/>
<rect x="246" y="685" width="1" height="30" fill="#c0c0c0"/>
<rect x="254" y="688" width="1" height="27" fill="#c0c0c0"/>
<rect x="262" y="690" width="1" height="25" fill="#c0c0c0"/>
<rect x="270" y="692" width="1" height="23" fill="#c0c0c0"/>
<rect x="278" y="693" width="1" height="22" fill="#c0c0c0"/>
<rect x="286" y="695" width="1" height="20" fill="#c0c0c0"/>
<rect x="294" y="696" width="1" height="19" fill="#c0c0c0"/>
<rect x="302" y="699" width="1" height="16" fill="#c0c0c0"/>
<rect x="310" y="700" width="1" height="15" fill="#c0c0c0"/>
<rect x="318" y="700" width="1" height="15" fill="#c0c0c0"/>
<rect x="326" y="703" width="1" height="12" fill="#c0c0c0"/>
<rect x="334" y="708" width="1" height="7" fill="#c0c0c0"/>
<rect x="342" y="712" width="1" height="3" fill="#c0c0c0"/>
<rect x="350" y="714" width="1" height="3" fill="#c0c0c0"/>
<rect x="358" y="714" width="1" height="4" fill="#c0c0c0"/>
<rect x="366" y="714" width="1" height="4" fill="#c0c0c0"/>
<rect x="374" y="714" width="1" height="3" fill="#c0c0c0"/>
<rect x="390" y="712" width="1" height="3" fill="#c0c0c0"/>
<rect x="398" y="710" width="1" height="5" fill="#c0c0c0"/>
<rect x="406" y="713" width="1" height="2" fill="#c0c0c0"/>
<rect x="430" y="713" width="1" height="2" fill="#c0c0c0"/>
<rect x="438" y="711" width="1" height="4" fill="#c0c0c0"/>
<rect x="446" y="708" width="1" height="7" fill="#c0c0c0"/>
<rect x="454" y="705" width="1" height="10" fill="#c0c0c0"/>
<rect x="462" y="699" width="1" height="16" fill="#c0c0c0"/>
<rect x="470" y="694" width="1" height="21" fill="#c0c0c0"/>
<rect x="478" y="692" width="1" height="23" fill="#c0c0c0"/>
<rect x="486" y="689" width="1" height="26" fill="#c0c0c0"/>
<rect x="494" y="680" width="1" height="35" fill="#c0c0c0"/>
<rect x="502" y="674" width="1" height="41" fill="#c0c0c0"/>
<rect x="510" y="670" width="1" height="45" fill="#c0c0c0"/>
<rect x="518" y="669" width="1" height="46" fill="#c0c0c0"/>
<rect x="526" y="669" width="1" height="46" fill="#c0c0c0"/>
<rect x="534" y="672" width="1" height="43" fill="#c0c0c0"/>
<rect x="542" y="676" width="1" height="39" fill="#c0c0c0"/>
<rect x="550" y="677" width="1" height="38" fill="#c0c0c0"/>
<rect x="558" y="683" width="1" height="32" fill="#c0c0c0"/>
<rect x="566" y="687" width="1" height="28" fill="#c0c0c0"/>
<rect x="574" y="689" width="1" height="26" fill="#c0c0c0"/>
<rect x="582" y="690" width="1" height="25" fill="#c0c0c0"/>
<rect x="590" y="692" width="1" height="23" fill="#c0c0c0"/>
<rect x="598" y="693" width="1" height="22" fill="#c0c0c0"/>
<rect x="606" y="694" width="1" height="21" fill="#c0c0c0"/>
<rect x="614" y="696" width="1" height="19" fill="#c0c0c0"/>
<rect x="622" y="696" width="1" height="19" fill="#c0c0c0"/>
<rect x="630" y="696" width="1" height="19" fill="#c0c0c0"/>
<rect x="638" y="696" width="1" height="19" fill="#c0c0c0"/>
<rect x="646" y="695" width="1" height="20" fill="#c0c0c0"/>
<rect x="654" y="693" width="1" height="22" fill="#c0c0c0"/>
<rect x="662" y="690" width="1" height="25" fill="#c0c0c0"/>
<rect x="670" y="689" width="1" height="26" fill="#c0c0c0"/>
<rect x="678" y="689" width="1" height="26" fill="#c0c0c0"/>
<rect x="686" y="690" width="1" height="25" fill="#c0c0c0"/>
<rect x="694" y="694" width="1" height="21" fill="#c0c0c0"/>
<rect x="702" y="698" width="1" height="17" fill="#c0c0c0"/>
<rect x="710" y="700" width="1" height="15" fill="#c0c0c0"/>
<rect x="718" y="702" width="1" height="13" fill="#c0c0c0"/>
<rect x="726" y="699" width="1" height="16" fill="#c0c0c0"/>
<rect x="734" y="694" width="1" height="21" fill="#c0c0c0"/>
<rect x="742" y="695" width="1" height="20" fill="#c0c0c0"/>
<rect x="750" y="692" width="1" height="23" fill="#c0c0c0"/>
<rect x="758" y="687" width="1" height="28" fill="#c0c0c0"/>
<rect x="766" y="684" width="1" height="31" fill="#c0c0c0"/>
<rect x="774" y="683" width="1" height="32" fill="#c0c0c0"/>
<rect x="782" y="682" width="1" height="33" fill="#c0c0c0"/>
<rect x="790" y="682" width="1" height="33" fill="#c0c0c0"/>
<rect x="798" y="683" width="1" height="32" fill="#c0c0c0"/>
<rect x="806" y="683" width="1" height="32" fill="#c0c0c0"/>
<rect x="814" y="686" width="1" height="29" fill="#c0c0c0"/>
<rect x="822" y="688" width="1" height="27" fill="#c0c0c0"/>
<rect x="830" y="691" width="1" height="24" fill="#c0c0c0"/>
<rect x="838" y="694" width="1" height="21" fill="#c0c0c0"/>
<rect x="846" y="696" width="1" height="19" fill="#c0c0c0"/>
<rect x="854" y="701" width="1" height="14" fill="#c0c0c0"/>
<rect x="862" y="705" width="1" height="10" fill="#c0c0c0"/>
<rect x="870" y="710" width="1" height="5" fill="#c0c0c0"/>
<rect x="878" y="714" width="1" height="3" fill="#c0c0c0"/>
<rect x="886" y="714" width="1" height="8" fill="#c0c0c0"/>
<rect x="894" y="714" width="1" height="10" fill="#c0c0c0"/>
<rect x="902" y="714" width="1" height="11" fill="#c0c0c0"/>
<rect x="910" y="714" width="1" height="12" fill="#c0c0c0"/>
<rect x="918" y="714" width="1" height="12" fill="#c0c0c0"/>
<rect x="926" y="714" width="1" height="11" fill="#c0c0c0"/>
<rect x="934" y="714" width="1" height="9" fill="#c0c0c0"/>
<rect x="942" y="714" width="1" height="7" fill="#c0c0c0"/>
<rect x="950" y="714" width="1" height="2" fill="#c0c0c0"/>
<rect x="958" y="713" width="1" height="2" fill="#c0c0c0"/>
<rect x="966" y="712" width="1" height="3" fill="#c0c0c0"/>
<rect x="974" y="709" width="1" height="6" fill="#c0c0c0"/>
<rect x="982" y="706" width="1" height="9" fill="#c0c0c0"/>
<rect x="990" y="704" width="1" height="11" fill="#c0c0c0"/>
<rect x="998" y="707" width="1" height="8" fill="#c0c0c0"/>
<rect x="1006" y="706" width="1" height="9" fill="#c0c0c0"/>
<rect x="1014" y="708" width="1" height="7" fill="#c0c0c0"/>
<rect x="1022" y="707" width="1" height="8" fill="#c0c0c0"/>
<rect x="1030" y="707" width="1" height="8" fill="#c0c0c0"/>
<rect x="1038" y="706" width="1" height="9" fill="#c0c0c0"/>
<rect x="1046" y="704" width="1" height="11" fill="#c0c0c0"/>
<rect x="1054" y="701" width="1" height="14" fill="#c0c0c0"/>
<rect x="1062" y="700" width="1" height="15" fill="#c0c0c0"/>
<rect x="1070" y="699" width="1" height="16" fill="#c0c0c0"/>
<rect x="1078" y="699" width="1" height="16" fill="#c0c0c0"/>
<rect x="1086" y="696" width="1" height="19" fill="#c0c0c0"/>
<rect x="1094" y="694" width="1" height="21" fill="#c0c0c0"/>
<rect x="1102" y="689" width="1" height="26" fill="#c0c0c0"/>
<rect x="1110" y="682" width="1" height="33" fill="#c0c0c0"/>
<rect x="1118" y="673" width="1" height="42" fill="#c0c0c0"/>
<rect x="1126" y="669" width="1" height="46" fill="#c0c0c0"/>
<rect x="1134" y="663" width="1" height="52" fill="#c0c0c0"/>
<rect x="1142" y="656" width="1" height="59" fill="#c0c0c0"/>
<rect x="1150" y="651" width="1" height="64" fill="#c0c0c0"/>
<rect x="1158" y="645" width="1" height="70" fill="#c0c0c0"/>
<rect x="1166" y="637" width="1" height="78" fill="#c0c0c0"/>
<rect x="1174" y="629" width="1" height="86" fill="#c0c0c0"/>
<rect x="1182" y="628" width="1" height="87" fill="#c0c0c0"/>
<rect x="1190" y="625" width="1" height="90" fill="#c0c0c0"/>
<rect x="1198" y="625" width="1" height="90" fill="#c0c0c0"/>
<rect x="1206" y="628" width="1" height="87" fill="#c0c0c0"/>
<rect x="1214" y="629" width="1" height="86" fill="#c0c0c0"/>
<rect x="1222" y="625" width="1" height="90" fill="#c0c0c0"/>
<rect x="1230" y="622" width="1" height="93" fill="#c0c0c0"/>
<rect x="1238" y="622" width="1" height="93" fill="#c0c0c0"/>
<rect x="1246" y="627" width="1" height="88" fill="#c0c0c0"/>
<rect x="1254" y="634" width="1" height="81" fill="#c0c0c0"/>
<rect x="1262" y="643" width="1" height="72" fill="#c0c0c0"/>
<rect x="1270" y="650" width="1" height="65" fill="#c0c0c0"/>
<rect x="1278" y="654" width="1" height="61" fill="#c0c0c0"/>
<rect x="1286" y="656" width="1" height="59" fill="#c0c0c0"/>
<rect x="1294" y="660" width="1" height="55" fill="#c0c0c0"/>
<rect x="1302" y="667" width="1" height="48" fill="#c0c0c0"/>
<rect x="1310" y="672" width="1" height="43" fill="#c0c0c0"/>
<rect x="1318" y="675" width="1" height="40" fill="#c0c0c0"/>
<rect x="1326" y="672" width="1" height="43" fill="#c0c0c0"/>
<rect x="1334" y="672" width="1" height="43" fill="#c0c0c0"/>
<path d="M1238 625h1M1242 625h3M1248 625h3M1254 625h3M1236 626h2M1260 626h2M1230 627h3M1262 627h1M1226 628h1M1266 628h3M1224 629h2M1218 630h3M1272 630h3M1214 631h1M1212 632h2M1278 632h3M1208 634h1M1284 634h2M1206 635h2M1286 635h1M1202 637h1M1290 637h3M1200 638h2M1296 640h2M1196 641h1M1298 641h1M1194 642h2M1302 643h2M1190 644h1M1304 644h1M1189 645h1M1188 646h1M1308 647h2M1310 648h1M1184 649h1M1182 650h2M1314 651h2M1316 652h1M1178 653h1M1176 654h2M1320 655h2M1322 656h1M1172 658h1M1326 658h2M1170 659h2M1328 659h1M1166 662h1M1332 662h2M1165 663h1M1334 663h1M1164 664h1M1160 667h1M1158 668h2M1154 671h1M1153 672h1M558 673h3M1152 673h1M552 674h3M564 674h3M546 675h3M570 675h3M540 676h3M576 676h3M1148 676h1M582 677h2M1146 677h2M536 678h1M584 678h1M534 679h2M588 679h2M530 680h1M590 680h1M1142 680h1M528 681h2M594 681h2M1140 681h2M260 682h1M264 682h3M524 682h1M596 682h1M252 683h3M258 683h2M270 683h3M522 683h2M600 683h2M818 683h1M822 683h3M828 683h2M1136 683h1M246 684h3M276 684h3M602 684h1M810 684h3M816 684h2M830 684h1M834 684h3M1134 684h2M282 685h3M518 685h1M606 685h2M804 685h3M840 685h3M240 686h3M288 686h2M516 686h2M608 686h1M798 686h3M846 686h3M852 686h2M1130 686h1M290 687h1M612 687h3M794 687h1M854 687h1M1128 687h2M236 688h1M294 688h3M512 688h1M618 688h2M788 688h1M792 688h2M234 689h2M300 689h2M511 689h1M620 689h1M786 689h2M858 689h2M1124 689h1M302 690h1M510 690h1M624 690h3M782 690h1M860 690h1M1122 690h2M230 691h1M306 691h3M630 691h3M690 691h3M696 691h3M702 691h3M780 691h2M864 691h2M229 692h1M312 692h2M506 692h1M636 692h3M642 692h2M672 692h3M678 692h3M684 692h3M708 692h3M714 692h2M774 692h3M866 692h1M1118 692h1M228 693h1M314 693h1M504 693h2M644 693h1M648 693h3M654 693h3M660 693h3M666 693h3M716 693h1M720 693h3M768 693h3M870 693h2M1116 693h2M318 694h3M726 694h3M732 694h3M756 694h3M762 694h3M872 694h1M224 695h1M324 695h2M500 695h1M738 695h3M744 695h3M750 695h3M876 695h1M1110 695h3M222 696h2M326 696h1M498 696h2M877 696h1M330 697h3M878 697h1M1104 697h3M336 698h2M494 698h1M1100 698h1M218 699h1M338 699h1M492 699h2M882 699h2M1098 699h2M216 700h2M342 700h3M884 700h1M1092 700h3M488 701h1M1082 701h1M1086 701h3M348 702h3M486 702h2M888 702h2M1074 702h3M1080 702h2M212 703h1M354 703h2M482 703h1M890 703h1M1068 703h3M210 704h2M356 704h1M480 704h2M1056 704h3M1062 704h3M360 705h2M476 705h1M894 705h2M1044 705h3M1050 705h3M362 706h1M474 706h2M896 706h1M1034 706h1M1038 706h3M206 707h1M366 707h3M468 707h3M1022 707h1M1026 707h3M1032 707h2M205 708h1M372 708h2M464 708h1M900 708h2M1014 708h3M1020 708h2M204 709h1M374 709h1M458 709h1M462 709h2M902 709h1M1008 709h3M378 710h3M452 710h1M456 710h2M1002 710h3M200 711h1M384 711h3M444 711h3M450 711h2M906 711h3M199 712h1M390 712h3M434 712h1M438 712h3M996 712h3M198 713h1M396 713h3M402 713h2M426 713h3M432 713h2M912 713h2M404 714h1M408 714h3M414 714h3M420 714h3M914 714h1M990 714h3M986 715h1M194 716h1M918 716h2M984 716h2M192 717h2M920 717h1M978 717h3M924 718h2M972 718h3M188 719h1M926 719h1M968 719h1M186 720h2M930 720h3M966 720h2M936 721h3M942 721h3M954 721h3M960 721h3M948 722h3M182 723h1M78 724h3M84 724h3M180 724h2M68 725h1M72 725h3M90 725h3M96 725h3M60 726h3M66 726h2M102 726h3M176 726h1M54 727h3M108 727h3M174 727h2M48 728h3M114 728h2M170 728h1M42 729h3M116 729h1M168 729h2M36 730h3M120 730h3M164 730h1M32 731h1M126 731h3M162 731h2M30 732h2M132 732h3M138 732h3M150 732h3M156 732h3M24 733h3M144 733h3M20 734h1M14 735h1M18 735h2M12 736h2M6 737h3" transform="translate(0 0.5)" fill="none" stroke="#ff0000" stroke-width="1"/>
</g>
<g shape-rendering="crispEdges">
<line x1="6" y1="785.500" x2="1691" y2="785.500" stroke="#c0c0c0" stroke-dasharray="3 3"/>
<line x1="6" y1="835.500" x2="1691" y2="835.500" stroke="#c0c0c0" stroke-dasharray="3 3"/>
<path d="M1173 764h2M1169 765h4M1175 765h1M1165 766h4M1175 766h1M1163 767h2M1176 767h1M1160 768h3M1176 768h1M1157 769h3M1177 769h1M1155 770h2M1177 770h1M1152 771h3M1178 771h1M1142 772h10M1178 772h1M1117 773h2M1140 773h2M1179 773h1M1115 774h2M1119 774h2M1139 774h1M1179 774h1M1112 775h3M1121 775h1M1137 775h2M1180 775h1M1110 776h2M1122 776h1M1135 776h2M1180 776h1M1189 776h3M1109 777h1M1123 777h2M1133 777h2M1181 777h1M1187 777h2M1192 777h2M1108 778h1M1125 778h1M1129 778h4M1181 778h1M1184 778h3M1194 778h2M1222 778h10M1107 779h1M1126 779h3M1182 779h2M1196 779h2M1221 779h1M1232 779h3M494 780h1M1106 780h1M1198 780h1M1219 780h2M1235 780h2M493 781h1M495 781h2M1105 781h1M1199 781h1M1218 781h1M1237 781h2M493 782h1M497 782h2M1104 782h1M1200 782h1M1217 782h1M1239 782h1M492 783h1M499 783h1M1103 783h1M1201 783h1M1215 783h2M1240 783h1M491 784h1M500 784h2M1102 784h1M1202 784h1M1214 784h1M1240 784h1M490 785h1M502 785h10M1101 785h1M1203 785h1M1212 785h2M1241 785h1M490 786h1M512 786h2M1099 786h2M1204 786h1M1210 786h2M1242 786h1M469 787h2M489 787h1M514 787h2M1098 787h1M1205 787h1M1208 787h2M1243 787h1M465 788h4M471 788h1M488 788h1M516 788h2M661 788h3M734 788h1M1097 788h1M1206 788h2M1244 788h1M181 789h6M195 789h5M462 789h3M472 789h1M487 789h1M518 789h5M659 789h2M664 789h3M733 789h2M1095 789h2M1244 789h1M177 790h4M187 790h8M200 790h2M461 790h1M473 790h1M487 790h1M523 790h4M656 790h3M667 790h2M732 790h1M735 790h1M1091 790h4M1245 790h1M174 791h3M202 791h2M460 791h1M474 791h1M486 791h1M527 791h1M654 791h2M669 791h4M731 791h1M735 791h1M758 791h11M1086 791h5M1246 791h1M173 792h1M204 792h2M211 792h5M459 792h1M474 792h1M484 792h2M528 792h1M653 792h1M673 792h4M729 792h2M736 792h1M756 792h2M769 792h4M1085 792h1M1247 792h2M1326 792h2M173 793h1M206 793h5M216 793h2M458 793h1M475 793h1M483 793h1M529 793h1M651 793h2M677 793h2M728 793h1M736 793h1M754 793h2M773 793h18M1084 793h1M1249 793h2M1325 793h1M1328 793h3M172 794h1M218 794h2M457 794h1M476 794h1M481 794h2M530 794h1M650 794h1M679 794h2M727 794h1M737 794h1M752 794h2M791 794h2M806 794h1M1083 794h1M1251 794h1M1325 794h1M1331 794h2M172 795h1M220 795h2M456 795h1M477 795h1M479 795h2M531 795h1M649 795h1M681 795h2M726 795h1M737 795h1M750 795h2M793 795h1M804 795h2M807 795h1M1054 795h3M1082 795h1M1252 795h2M1285 795h3M1324 795h1M1333 795h2M171 796h1M222 796h3M455 796h1M478 796h1M532 796h1M647 796h2M683 796h1M725 796h1M738 796h1M749 796h1M794 796h1M803 796h1M807 796h1M987 796h4M1052 796h2M1057 796h4M1082 796h1M1254 796h1M1281 796h4M1288 796h3M1323 796h1M171 797h1M225 797h4M453 797h2M533 797h1M645 797h2M684 797h2M725 797h1M738 797h1M748 797h1M795 797h2M801 797h2M808 797h1M981 797h6M990 797h1M1051 797h1M1061 797h3M1081 797h1M1255 797h1M1278 797h3M1291 797h2M1322 797h1M170 798h1M229 798h2M449 798h4M534 798h3M629 798h4M643 798h2M686 798h1M724 798h1M739 798h1M747 798h1M797 798h1M799 798h2M809 798h1M950 798h2M977 798h4M991 798h1M1049 798h2M1064 798h3M1080 798h1M1256 798h1M1276 798h2M1293 798h2M1322 798h1M169 799h1M231 799h2M446 799h3M537 799h4M547 799h4M627 799h2M633 799h4M640 799h3M687 799h1M723 799h1M739 799h1M746 799h1M798 799h1M810 799h1M948 799h2M952 799h3M974 799h3M991 799h1M1047 799h2M1067 799h2M1079 799h1M1257 799h1M1274 799h2M1295 799h1M1321 799h1M22 800h1M158 800h1M169 800h1M233 800h1M444 800h2M541 800h6M551 800h1M581 800h3M624 800h3M637 800h3M688 800h1M723 800h1M740 800h1M746 800h1M810 800h1M946 800h2M955 800h2M973 800h1M992 800h1M1043 800h4M1069 800h10M1258 800h1M1272 800h2M1296 800h1M1320 800h1M21 801h1M23 801h1M158 801h3M168 801h1M234 801h1M245 801h3M389 801h3M442 801h2M552 801h1M577 801h4M584 801h2M605 801h3M622 801h2M688 801h1M722 801h1M740 801h1M745 801h1M811 801h1M944 801h2M957 801h3M971 801h2M992 801h1M1038 801h5M1259 801h1M1269 801h3M1297 801h1M1319 801h1M21 802h1M24 802h1M157 802h1M161 802h2M168 802h1M235 802h2M243 802h2M248 802h3M294 802h1M387 802h2M392 802h3M440 802h2M553 802h1M574 802h3M586 802h2M601 802h4M608 802h2M620 802h2M689 802h1M721 802h1M741 802h1M744 802h1M812 802h1M942 802h2M960 802h2M970 802h1M993 802h1M1037 802h1M1260 802h1M1267 802h2M1298 802h1M1319 802h1M20 803h1M25 803h2M157 803h1M163 803h1M167 803h1M237 803h1M240 803h3M251 803h2M277 803h3M292 803h2M295 803h1M317 803h2M384 803h3M395 803h2M437 803h3M554 803h1M573 803h1M588 803h2M595 803h6M610 803h2M618 803h2M690 803h1M721 803h1M741 803h1M743 803h1M813 803h1M821 803h3M941 803h1M962 803h2M969 803h1M993 803h1M1035 803h2M1261 803h1M1264 803h3M1299 803h1M1315 803h4M20 804h1M27 804h1M156 804h1M164 804h2M167 804h1M238 804h2M253 804h3M273 804h4M280 804h2M291 804h1M296 804h1M315 804h2M319 804h1M382 804h2M397 804h2M433 804h4M554 804h1M572 804h1M590 804h5M612 804h2M616 804h2M691 804h1M720 804h1M742 804h1M813 804h1M817 804h4M824 804h3M941 804h1M964 804h2M967 804h2M994 804h1M1034 804h1M1262 804h2M1300 804h1M1309 804h6M19 805h1M28 805h1M156 805h1M166 805h1M256 805h3M269 805h4M282 805h2M289 805h2M297 805h1M312 805h3M320 805h1M380 805h2M399 805h1M430 805h3M555 805h1M571 805h1M614 805h2M692 805h1M719 805h1M814 805h3M827 805h2M940 805h1M966 805h1M994 805h1M1006 805h3M1033 805h1M1301 805h1M1305 805h4M19 806h1M29 806h1M156 806h1M259 806h2M265 806h4M284 806h2M287 806h2M298 806h1M310 806h2M320 806h1M378 806h2M399 806h1M429 806h1M556 806h1M569 806h2M692 806h1M719 806h1M829 806h14M939 806h1M994 806h1M1005 806h1M1009 806h4M1031 806h2M1302 806h3M18 807h1M30 807h3M155 807h1M261 807h4M286 807h1M298 807h1M308 807h2M321 807h1M376 807h2M400 807h1M427 807h2M557 807h1M568 807h1M693 807h1M715 807h4M843 807h4M938 807h1M995 807h1M1004 807h1M1013 807h18M17 808h1M33 808h4M43 808h4M155 808h1M299 808h1M307 808h1M322 808h1M373 808h3M401 808h1M426 808h1M558 808h5M567 808h1M694 808h2M710 808h5M847 808h1M938 808h1M995 808h1M1003 808h1M17 809h1M37 809h6M47 809h1M154 809h1M300 809h1M305 809h2M323 809h1M369 809h4M401 809h1M425 809h1M563 809h4M696 809h2M708 809h2M848 809h1M937 809h1M996 809h1M1002 809h1M16 810h1M48 810h1M154 810h1M301 810h1M303 810h2M324 810h1M366 810h3M402 810h1M423 810h2M698 810h2M706 810h2M848 810h1M936 810h1M996 810h1M1002 810h1M16 811h1M49 811h1M142 811h1M154 811h1M302 811h1M324 811h1M365 811h1M403 811h1M419 811h4M700 811h2M704 811h2M849 811h1M935 811h1M997 811h1M1001 811h1M15 812h1M50 812h1M140 812h2M143 812h1M153 812h1M325 812h1M363 812h2M403 812h1M414 812h5M702 812h2M850 812h1M935 812h1M997 812h1M1000 812h1M15 813h1M51 813h1M139 813h1M144 813h1M153 813h1M326 813h1M362 813h1M404 813h1M412 813h2M851 813h1M918 813h5M931 813h4M998 813h2M14 814h1M52 814h1M137 814h2M145 814h1M152 814h1M327 814h2M361 814h1M405 814h1M410 814h2M852 814h1M917 814h1M923 814h8M998 814h1M13 815h1M53 815h1M59 815h8M125 815h6M135 815h2M146 815h1M152 815h1M329 815h2M359 815h2M405 815h1M408 815h2M852 815h1M915 815h2M11 816h2M54 816h5M67 816h4M123 816h2M131 816h4M146 816h1M152 816h1M331 816h1M358 816h1M406 816h2M853 816h1M859 816h5M914 816h1M10 817h1M71 817h1M120 817h3M147 817h1M151 817h1M332 817h2M356 817h2M854 817h5M864 817h3M901 817h4M913 817h1M9 818h1M72 818h1M117 818h3M148 818h1M151 818h1M334 818h5M354 818h2M867 818h2M899 818h2M905 818h4M911 818h2M7 819h2M73 819h1M115 819h2M149 819h2M339 819h8M352 819h2M869 819h2M896 819h3M909 819h2M6 820h1M74 820h1M112 820h3M150 820h1M347 820h5M871 820h1M894 820h2M74 821h1M101 821h11M872 821h1M893 821h1M75 822h1M97 822h4M872 822h1M892 822h1M76 823h1M85 823h12M873 823h1M891 823h1M77 824h1M81 824h4M874 824h1M889 824h2M78 825h3M875 825h1M888 825h1M876 826h1M887 826h1M876 827h1M885 827h2M877 828h1M881 828h4M878 829h3" transform="translate(0 0.5)" fill="none" stroke="#1e90ff" stroke-width="1"/>
</g>
<g font-family="Liberation Sans, sans-serif" font-size="10.2px" fill="#000" stroke="#000" stroke-width="0.25" style="text-rendering:geometricPrecision">
<text transform="translate(1697 52) scale(0.926 1)">5664.0</text>
<text transform="translate(1697 85) scale(0.926 1)">5596.0</text>
<text transform="translate(1697 118) scale(0.926 1)">5528.0</text>
<text transform="translate(1697 151) scale(0.926 1)">5458.0</text>
<text transform="translate(1697 184) scale(0.926 1)">5390.0</text>
<text transform="translate(1697 217) scale(0.926 1)">5322.0</text>
<text transform="translate(1697 250) scale(0.926 1)">5254.0</text>
<text transform="translate(1697 283) scale(0.926 1)">5186.0</text>
<text transform="translate(1697 316) scale(0.926 1)">5116.0</text>
<text transform="translate(1697 349) scale(0.926 1)">5048.0</text>
<text transform="translate(1697 382) scale(0.926 1)">4980.0</text>
<text transform="translate(1697 415) scale(0.926 1)">4912.0</text>
<text transform="translate(1697 448) scale(0.926 1)">4844.0</text>
<text transform="translate(1697 481) scale(0.926 1)">4774.0</text>
<text transform="translate(1697 514) scale(0.926 1)">4706.0</text>
<text transform="translate(1697 547) scale(0.926 1)">4638.0</text>
<text transform="translate(1697 580) scale(0.926 1)">4570.0</text>
<text transform="translate(1697 613) scale(0.926 1)">4502.0</text>
<text transform="translate(1697 333) scale(0.926 1)" fill="#fff" stroke="#fff">5080.0</text>
<text transform="translate(1697 234) scale(0.926 1)" fill="#fff" stroke="#fff">5285.0</text>
<text transform="translate(1697 171) scale(0.926 1)" fill="#fff" stroke="#fff">5415.0</text>
<text transform="translate(1697 106) scale(0.926 1)" fill="#fff" stroke="#fff">5550.0</text>
<text transform="translate(1695 625) scale(0.926 1)">134.88</text>
<text transform="translate(1695 718) scale(0.926 1)">0.00</text>
<text transform="translate(1695 740) scale(0.926 1)">-39.29</text>
<text transform="translate(1695 756) scale(0.926 1)">100</text>
<text transform="translate(1695 789) scale(0.926 1)">70</text>
<text transform="translate(1695 839) scale(0.926 1)">30</text>
<text transform="translate(1695 871) scale(0.926 1)">0</text>
<text transform="translate(21.5 43) scale(0.926 1)" xml:space="preserve">CHINA300-,H4  5571.5 5588.8 5540.6 5549.0</text>
<text transform="translate(10.2 627) scale(0.926 1)">MACD(12,26,9) 59.28 69.52</text>
<text transform="translate(10.2 758) scale(0.926 1)">RSI(14) 61.7124</text>
<text transform="translate(5.3 887) scale(0.926 1)">17 Sep 2020</text>
<text transform="translate(69.3 887) scale(0.926 1)">23 Sep 05:00</text>
<text transform="translate(133.3 887) scale(0.926 1)">29 Sep 05:00</text>
<text transform="translate(197.3 887) scale(0.926 1)">13 Oct 05:00</text>
<text transform="translate(261.3 887) scale(0.926 1)">19 Oct 05:00</text>
<text transform="translate(325.3 887) scale(0.926 1)">23 Oct 05:00</text>
<text transform="translate(389.3 887) scale(0.926 1)">29 Oct 05:00</text>
<text transform="translate(453.3 887) scale(0.926 1)">4 Nov 05:00</text>
<text transform="translate(517.3 887) scale(0.926 1)">10 Nov 05:00</text>
<text transform="translate(581.3 887) scale(0.926 1)">16 Nov 05:00</text>
<text transform="translate(645.3 887) scale(0.926 1)">20 Nov 05:00</text>
<text transform="translate(709.3 887) scale(0.926 1)">26 Nov 05:00</text>
<text transform="translate(773.3 887) scale(0.926 1)">2 Dec 05:00</text>
<text transform="translate(837.3 887) scale(0.926 1)">8 Dec 05:00</text>
<text transform="translate(901.3 887) scale(0.926 1)">14 Dec 05:00</text>
<text transform="translate(965.3 887) scale(0.926 1)">18 Dec 05:00</text>
<text transform="translate(1029.3 887) scale(0.926 1)">24 Dec 05:00</text>
<text transform="translate(1093.3 887) scale(0.926 1)">30 Dec 05:00</text>
<text transform="translate(1157.3 887) scale(0.926 1)">6 Jan 05:00</text>
<text transform="translate(1221.3 887) scale(0.926 1)">12 Jan 05:00</text>
<text transform="translate(1285.3 887) scale(0.926 1)">18 Jan 05:00</text>
</g>
<path d="M9 38.500H16L12.500 42.500Z" fill="#000"/>
</svg>
</body></html>
